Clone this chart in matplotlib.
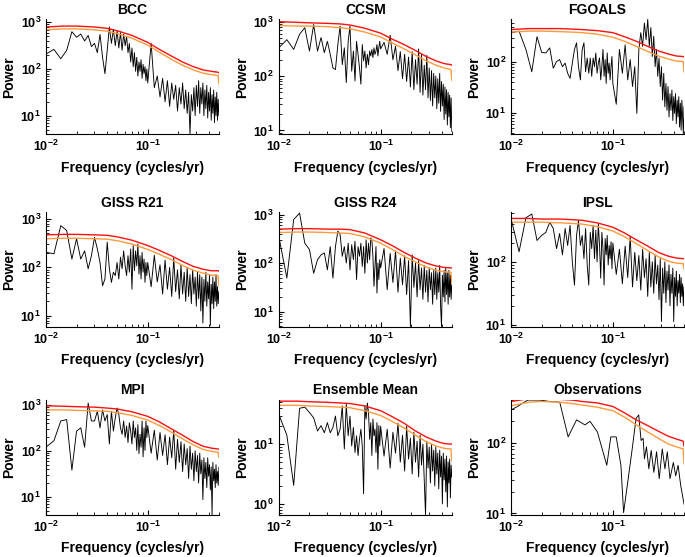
import numpy as np
import matplotlib
matplotlib.use("Agg")
import matplotlib.pyplot as plt

plt.rcParams['font.family'] = ['Liberation Sans', 'DejaVu Sans']
plt.rcParams['font.weight'] = 'bold'
plt.rcParams['axes.titleweight'] = 'bold'
plt.rcParams['axes.labelweight'] = 'bold'

# frequency grids (cycles/yr); spectrum values stored as log10(power)
n_lo, n_hi = 45, 51
sig_f = [0.01, 0.015, 0.02, 0.03, 0.04, 0.05, 0.07, 0.1, 0.13, 0.17, 0.22, 0.28, 0.35, 0.42, 0.49, 0.5]

# ---- BCC
bcc_lo = [2.32, 2.42, 2.22, 2.40, 2.80, 2.68, 2.75, 2.60, 2.72, 2.48, 2.55, 2.35, 2.74, 2.25, 1.90,
          2.40, 2.90, 2.55, 2.85, 2.50, 2.82, 2.45, 2.78, 2.40, 2.75, 2.50, 2.70, 2.35, 2.55, 2.15,
          2.45, 2.05, 2.35, 1.95, 2.25, 1.85, 2.15, 1.95, 2.20, 1.80, 2.10, 1.90, 2.05, 1.75, 2.00]
bcc_hi = [1.70, 2.55, 1.60, 1.85, 1.40, 1.80, 1.30, 1.75, 1.20, 1.70, 1.35, 1.65, 1.10, 1.60, 1.25,
          1.70, 1.15, 1.55, 1.05, 1.50, 0.60, 1.45, 1.10, 1.60, 1.00, 1.65, 1.20, 1.75, 1.05, 1.60,
          1.25, 1.70, 1.00, 1.55, 1.15, 1.65, 0.95, 1.50, 1.10, 1.60, 0.90, 1.45, 1.05, 1.55, 0.85,
          1.40, 1.00, 1.50, 0.90, 1.35, 1.00]
bcc_red = [2.90, 2.92, 2.92, 2.90, 2.87, 2.82, 2.72, 2.57, 2.42, 2.28, 2.15, 2.05, 1.98, 1.95, 1.93, 1.92]
bcc_orange = [2.84, 2.86, 2.86, 2.84, 2.81, 2.76, 2.66, 2.51, 2.36, 2.21, 2.08, 1.98, 1.91, 1.88, 1.86, 1.68]

# ---- CCSM
ccsm_lo = [2.52, 2.67, 2.49, 2.77, 2.89, 2.46, 2.95, 2.46, 2.71, 2.43, 2.64, 2.40, 2.15, 2.12, 2.58,
           2.92, 2.21, 2.52, 1.88, 2.64, 2.92, 2.09, 2.46, 1.91, 2.64, 2.40, 2.15, 1.85, 2.58, 2.28,
           2.46, 2.15, 2.40, 2.21, 2.46, 2.37, 2.49, 2.34, 2.52, 2.40, 2.46, 2.58, 2.37, 2.52, 2.64]
ccsm_hi = [2.50, 2.62, 2.40, 2.75, 2.30, 2.55, 2.10, 2.45, 1.95, 2.40, 1.90, 2.35, 1.80, 2.45, 1.75,
           2.30, 1.85, 2.50, 1.70, 2.40, 1.65, 2.20, 1.75, 2.38, 1.60, 2.15, 1.55, 2.10, 1.45, 2.05,
           1.60, 2.00, 1.40, 1.95, 1.50, 2.05, 1.35, 1.90, 1.45, 1.85, 1.20, 1.80, 1.30, 1.75, 1.10,
           1.70, 1.25, 1.65, 1.05, 1.60, 0.98]
ccsm_red = [3.00, 2.99, 2.98, 2.97, 2.96, 2.94, 2.88, 2.79, 2.68, 2.58, 2.47, 2.36, 2.28, 2.23, 2.21, 2.20]
ccsm_orange = [2.93, 2.92, 2.92, 2.91, 2.89, 2.87, 2.81, 2.72, 2.61, 2.50, 2.39, 2.28, 2.20, 2.15, 2.12, 1.92]

# ---- FGOALS
fgoals_lo = [2.58, 2.61, 2.25, 1.81, 2.50, 2.19, 2.18, 2.28, 1.88, 2.01, 2.05, 1.91, 1.98, 1.78, 1.68,
             1.98, 2.25, 2.38, 1.91, 1.65, 2.25, 2.38, 1.81, 2.08, 1.78, 2.08, 1.72, 2.08, 1.91, 2.18,
             1.78, 1.98, 2.08, 1.65, 1.91, 2.25, 1.72, 2.05, 1.58, 2.18, 1.78, 1.98, 1.65, 1.91, 2.11]
fgoals_hi = [1.58, 1.17, 2.25, 1.78, 2.34, 1.65, 2.05, 1.52, 1.91, 0.99, 2.25, 2.58, 2.31, 2.77, 2.44,
             2.84, 2.31, 2.68, 2.11, 2.51, 1.91, 2.25, 1.72, 2.08, 1.52, 1.91, 1.25, 1.78, 1.12, 1.58,
             1.05, 1.52, 0.92, 1.38, 1.05, 1.45, 0.85, 1.32, 0.99, 1.38, 0.79, 1.25, 0.92, 1.32, 0.72,
             1.19, 0.66, 1.25, 0.92, 0.59, 1.12]
fgoals_red = [2.64, 2.66, 2.66, 2.66, 2.65, 2.64, 2.62, 2.58, 2.50, 2.41, 2.31, 2.22, 2.16, 2.12, 2.11, 2.10]
fgoals_orange = [2.59, 2.61, 2.61, 2.60, 2.59, 2.58, 2.55, 2.49, 2.41, 2.31, 2.21, 2.12, 2.06, 2.02, 2.01, 1.81]

# ---- GISS R21
r21_lo = [2.31, 2.28, 2.86, 2.76, 2.17, 2.59, 2.17, 2.34, 1.97, 2.24, 2.62, 2.38, 2.10, 1.62, 1.76,
          2.52, 1.97, 1.69, 1.90, 1.83, 2.10, 1.76, 2.21, 1.97, 2.34, 2.03, 1.83, 2.24, 1.90, 2.38,
          1.55, 2.45, 1.93, 2.34, 2.03, 2.48, 1.86, 2.24, 1.76, 2.31, 1.90, 2.17, 1.69, 2.10, 1.83]
r21_hi = [2.10, 1.60, 2.25, 1.70, 2.05, 1.45, 2.15, 1.55, 2.00, 1.40, 2.20, 1.50, 1.95, 1.35, 2.05,
          1.45, 1.90, 1.30, 2.00, 1.40, 1.85, 1.25, 1.95, 1.45, 1.80, 1.20, 1.90, 1.35, 1.85, 1.10,
          1.80, 0.85, 1.75, 1.30, 1.90, 1.20, 1.70, 1.35, 1.85, 0.80, 1.65, 1.25, 1.80, 1.15, 1.70,
          1.30, 1.85, 1.20, 1.60, 1.25, 1.50]
r21_red = [2.67, 2.68, 2.68, 2.67, 2.66, 2.63, 2.56, 2.45, 2.35, 2.24, 2.12, 2.02, 1.96, 1.93, 1.93, 1.92]
r21_orange = [2.59, 2.60, 2.60, 2.59, 2.58, 2.55, 2.48, 2.37, 2.27, 2.16, 2.04, 1.94, 1.88, 1.84, 1.83, 1.62]

# ---- GISS R24
r24_lo = [2.55, 1.69, 2.90, 3.03, 2.41, 2.28, 1.79, 2.07, 2.17, 2.21, 1.86, 2.34, 1.69, 2.34, 2.66,
          2.59, 2.14, 2.34, 2.00, 2.41, 1.86, 2.38, 2.07, 2.45, 1.66, 2.34, 2.14, 2.41, 1.93, 2.34,
          1.79, 2.48, 2.00, 2.41, 2.07, 2.52, 2.48, 2.14, 1.52, 1.93, 2.34, 1.38, 2.00, 1.66, 2.07]
r24_hi = [1.90, 2.30, 1.45, 2.20, 1.60, 2.25, 1.40, 2.10, 1.55, 2.15, 1.35, 2.05, 0.69, 2.17, 1.50,
          2.00, 1.30, 2.05, 1.45, 1.90, 1.25, 1.95, 1.40, 1.85, 1.20, 1.90, 1.45, 1.80, 1.15, 1.85,
          1.35, 1.90, 1.25, 1.80, 1.40, 1.95, 1.10, 0.69, 1.75, 1.30, 1.85, 1.20, 1.90, 1.35, 1.80,
          1.15, 1.85, 1.30, 1.75, 1.25, 1.55]
r24_red = [2.70, 2.71, 2.71, 2.70, 2.70, 2.69, 2.62, 2.48, 2.36, 2.22, 2.10, 2.00, 1.94, 1.91, 1.90, 1.90]
r24_orange = [2.63, 2.64, 2.64, 2.63, 2.62, 2.61, 2.54, 2.41, 2.28, 2.14, 2.02, 1.92, 1.85, 1.82, 1.81, 1.59]

# ---- IPSL
ipsl_lo = [2.69, 2.16, 2.70, 2.76, 2.34, 2.42, 2.47, 2.63, 2.53, 2.21, 2.45, 2.11, 2.53, 2.26, 2.58,
           2.00, 1.63, 2.42, 2.66, 2.26, 2.42, 2.05, 2.53, 1.95, 1.63, 2.47, 2.21, 2.58, 2.05, 2.50,
           2.00, 2.61, 2.26, 1.74, 2.47, 2.21, 1.63, 2.37, 2.11, 2.42, 1.95, 2.26, 2.05, 2.32, 1.89]
ipsl_hi = [2.30, 1.80, 2.20, 1.65, 2.25, 1.75, 2.40, 1.60, 2.15, 1.70, 2.10, 1.55, 2.20, 1.75, 2.05,
           1.45, 2.15, 1.60, 2.00, 1.50, 2.10, 1.65, 1.95, 1.40, 2.05, 1.05, 1.90, 1.50, 2.00, 1.35,
           1.85, 1.55, 1.95, 1.30, 1.80, 1.50, 1.90, 1.05, 1.75, 1.45, 1.85, 1.30, 1.70, 1.50, 1.80,
           1.35, 1.75, 1.45, 1.65, 1.30, 1.60]
ipsl_red = [2.69, 2.69, 2.68, 2.68, 2.67, 2.66, 2.62, 2.55, 2.46, 2.35, 2.25, 2.15, 2.09, 2.06, 2.05, 2.05]
ipsl_orange = [2.63, 2.63, 2.63, 2.62, 2.61, 2.60, 2.56, 2.49, 2.40, 2.29, 2.18, 2.08, 2.01, 1.98, 1.97, 1.89]

# ---- MPI
mpi_lo = [2.08, 2.22, 2.65, 2.68, 1.58, 2.43, 2.50, 2.08, 3.04, 2.65, 2.65, 2.86, 2.50, 2.89, 2.65,
          2.79, 2.15, 2.86, 2.43, 2.72, 2.93, 2.79, 2.50, 2.36, 2.65, 2.29, 2.54, 2.18, 2.61, 2.43,
          2.15, 2.65, 2.29, 2.50, 2.01, 2.57, 1.94, 2.36, 2.08, 2.65, 1.87, 2.50, 2.01, 2.65, 2.29]
mpi_hi = [2.55, 1.95, 2.45, 1.80, 2.40, 1.90, 2.35, 1.70, 2.30, 1.85, 2.45, 1.60, 2.25, 1.75, 2.20,
          1.55, 2.15, 1.70, 2.05, 1.40, 2.10, 1.60, 1.95, 1.35, 2.00, 1.55, 1.90, 1.30, 1.95, 1.50,
          1.80, 0.94, 1.85, 1.40, 1.75, 1.20, 1.85, 1.45, 1.70, 1.15, 1.65, 0.60, 1.75, 1.35, 1.60,
          1.20, 1.70, 1.30, 1.55, 1.25, 1.65]
mpi_red = [2.98, 2.97, 2.96, 2.95, 2.93, 2.91, 2.85, 2.75, 2.63, 2.48, 2.34, 2.20, 2.10, 2.06, 2.04, 2.04]
mpi_orange = [2.89, 2.89, 2.88, 2.87, 2.86, 2.83, 2.77, 2.67, 2.55, 2.41, 2.26, 2.13, 2.03, 1.99, 1.97, 1.86]

# ---- Ensemble Mean
ens_lo = [1.50, 1.15, 0.31, 1.60, 1.62, 1.53, 1.44, 1.22, 1.31, 1.19, 1.36, 1.19, 1.28, 1.47, 1.14,
          1.25, 1.64, 0.92, 1.67, 1.14, 1.47, 0.97, 1.28, 0.86, 1.14, 0.81, 1.08, 1.25, 0.97, 0.17,
          1.64, 1.42, 1.69, 1.53, 1.08, 1.36, 0.81, 1.42, 1.14, 1.25, 0.86, 1.36, 0.58, 1.31, 0.97]
ens_hi = [1.30, 0.80, 1.25, 0.60, 1.20, 0.85, 1.35, 0.70, 1.15, 0.55, 1.30, 0.75, 1.10, 0.50, 1.20,
          0.70, 1.05, 0.45, 1.15, 0.65, 1.00, 0.40, -0.20, 1.05, 0.60, 0.95, 0.35, 1.00, 0.55, 0.90,
          0.30, 0.95, 0.50, 0.85, 0.25, 0.90, 0.45, 0.80, 0.00, 0.85, 0.40, 0.75, 0.20, 0.80, -0.05,
          0.70, 0.35, 0.75, 0.10, 0.65, 0.45]
ens_red = [1.72, 1.72, 1.71, 1.70, 1.69, 1.68, 1.64, 1.56, 1.46, 1.35, 1.22, 1.12, 1.05, 1.01, 1.00, 1.00]
ens_orange = [1.65, 1.65, 1.64, 1.63, 1.62, 1.61, 1.56, 1.48, 1.38, 1.27, 1.15, 1.04, 0.97, 0.93, 0.92, 0.72]

# ---- Observations (shorter record, coarser frequency resolution)
obs_f = [0.0100, 0.0116, 0.0146, 0.0191, 0.0240, 0.0301, 0.0364, 0.0440, 0.0532, 0.0597, 0.0705,
         0.0872, 0.0955, 0.1079, 0.1200, 0.1275, 0.1542, 0.1690, 0.1795, 0.1893, 0.1982, 0.2043,
         0.2138, 0.2255, 0.2378, 0.2527, 0.2686, 0.2853, 0.3055, 0.3248, 0.3424, 0.3640, 0.3927,
         0.4142, 0.4368, 0.4642, 0.5000]
obs_p = [2.46, 2.51, 2.60, 2.60, 2.58, 2.57, 2.08, 2.32, 2.25, 2.30, 2.15,
         1.68, 2.08, 2.08, 1.68, 1.01, 1.89, 2.34, 2.39, 2.03, 2.06, 1.77,
         1.94, 1.63, 1.89, 1.58, 1.87, 1.49, 1.91, 1.63, 1.87, 1.49, 1.72,
         1.53, 1.68, 1.39, 1.13]
obs_red = [2.58, 2.62, 2.63, 2.61, 2.60, 2.58, 2.56, 2.51, 2.42, 2.32, 2.24, 2.16, 2.09, 2.05, 2.02, 1.95]
obs_orange = [2.52, 2.57, 2.58, 2.57, 2.55, 2.53, 2.50, 2.45, 2.36, 2.25, 2.15, 2.06, 1.98, 1.94, 1.91, 1.70]

titles = ['BCC', 'CCSM', 'FGOALS', 'GISS R21', 'GISS R24', 'IPSL', 'MPI', 'Ensemble Mean', 'Observations']
ylims = [(4.0, 1150), (8.5, 1100), (3.8, 690), (5.9, 1370), (4.8, 1120),
         (9.2, 615), (4.1, 1280), (0.66, 55), (9.6, 400)]

grid_f = np.concatenate([np.linspace(0.010, 0.098, n_lo), np.linspace(0.10, 0.50, n_hi)])

panels = [
    (grid_f, bcc_lo + bcc_hi, bcc_red, bcc_orange),
    (grid_f, ccsm_lo + ccsm_hi, ccsm_red, ccsm_orange),
    (grid_f, fgoals_lo + fgoals_hi, fgoals_red, fgoals_orange),
    (grid_f, r21_lo + r21_hi, r21_red, r21_orange),
    (grid_f, r24_lo + r24_hi, r24_red, r24_orange),
    (grid_f, ipsl_lo + ipsl_hi, ipsl_red, ipsl_orange),
    (grid_f, mpi_lo + mpi_hi, mpi_red, mpi_orange),
    (grid_f, ens_lo + ens_hi, ens_red, ens_orange),
    (np.array(obs_f), obs_p, obs_red, obs_orange),
]

fig = plt.figure(figsize=(6.85, 5.57), dpi=100)
lefts = [0.067, 0.407, 0.746]
bottoms = [0.759, 0.413, 0.076]
w, h = 0.2526, 0.206

for i, (f, p, red, orange) in enumerate(panels):
    r, c = divmod(i, 3)
    ax = fig.add_axes([lefts[c], bottoms[r], w, h])
    ax.plot(f, 10 ** np.array(p), color='black', lw=0.65)
    ax.plot(sig_f, 10 ** np.array(orange), color='#ff9a3c', lw=1.0)
    ax.plot(sig_f, 10 ** np.array(red), color='#ff1010', lw=1.0)
    ax.set_xscale('log')
    ax.set_yscale('log')
    ax.set_xlim(0.01, 0.5)
    ax.set_ylim(*ylims[i])
    ax.spines['top'].set_visible(False)
    ax.spines['right'].set_visible(False)
    ax.tick_params(which='both', direction='in', labelsize=9)
    ax.tick_params(which='major', length=3.5)
    ax.tick_params(which='minor', length=2)
    ax.set_title(titles[i], fontsize=10, pad=4)
    ax.set_xlabel('Frequency (cycles/yr)', fontsize=10, labelpad=4.5)
    ax.set_ylabel('Power', fontsize=10, labelpad=3)

fig.savefig('out.png', dpi=100)
